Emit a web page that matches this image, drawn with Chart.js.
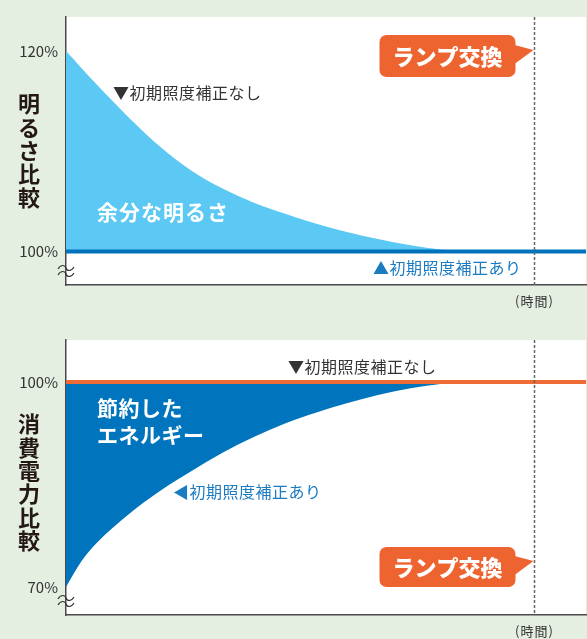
<!DOCTYPE html>
<html lang="ja">
<head>
<meta charset="utf-8">
<title>明るさ比較・消費電力比較</title>
<script src="https://cdn.jsdelivr.net/npm/chart.js@4.4.1/dist/chart.umd.min.js"></script>
<style>
  html, body { margin: 0; padding: 0; background: #e4eee1; }
  #wrap { position: relative; width: 587px; height: 639px; background: #e4eee1; }
  canvas { position: absolute; left: 0; }
</style>
</head>
<body>
<div id="wrap">
  <canvas id="brightChart" width="587" height="320" style="top:0"></canvas>
  <canvas id="powerChart" width="587" height="319" style="top:320px"></canvas>
</div>
<script>
// 経過時間は 0〜100 の相対値
const lampChangeAt = 90;

// 明るさ (%)
const brightTime = [0, 6, 12, 18, 24, 30, 36, 42, 48, 54, 60, 66, 72, 77, 100];
const brightNoComp = [120, 116.6, 113.4, 110.5, 108.1, 106.3, 104.9, 103.8, 102.8, 101.95, 101.25, 100.65, 100.2, 100, 100];
const brightCompTime = [0, 100];
const brightComp = [100, 100];
const brightTicks = [100, 120];

// 消費電力 (%)
const powerTime = [0, 3, 6, 12, 18, 24, 30, 36, 42, 48, 54, 60, 66, 72, 77, 100];
const powerComp = [70, 73.8, 76.5, 80.6, 84.0, 86.9, 89.6, 91.9, 93.9, 95.5, 96.9, 98.1, 99.05, 99.7, 100, 100];
const powerNoCompTime = [0, 100];
const powerNoComp = [100, 100];
const powerTicks = [70, 100];

const FONT = '"Noto Sans CJK JP", "Noto Sans", sans-serif';
const ORANGE = '#ee6430';

function pts(xs, ys) {
    return xs.map((x, i) => ({ x: x, y: ys[i] }));
}

function drawText(ctx, t) {
    ctx.save();
    ctx.font = t.font;
    ctx.fillStyle = t.color;
    ctx.textAlign = t.align || 'left';
    ctx.textBaseline = 'middle';
    if ('letterSpacing' in ctx) ctx.letterSpacing = (t.spacing || 0) + 'px';
    ctx.fillText(t.text, t.x, t.y);
    ctx.restore();
}

function callout(ctx, lx, cy, h) {
    const right = lx - 19, left = lx - 155, top = cy - h / 2, r = 7;
    ctx.save();
    ctx.fillStyle = ORANGE;
    ctx.beginPath();
    ctx.roundRect(left, top, right - left, h, r);
    ctx.fill();
    ctx.beginPath();
    ctx.moveTo(right - 1, cy - 11);
    ctx.lineTo(lx - 1, cy - 6);
    ctx.lineTo(right - 1, cy + 8);
    ctx.closePath();
    ctx.fill();
    ctx.restore();
    drawText(ctx, { text: 'ランプ交換', x: (left + right) / 2, y: cy + 1, color: '#fff',
        font: '900 22px ' + FONT, align: 'center' });
}

// 波線の省略記号 (軸をまたいで2本)
function breakMark(ctx, cx, cy) {
    ctx.save();
    ctx.strokeStyle = '#333';
    ctx.lineWidth = 1.1;
    [-3, 3].forEach(dy => {
        const y = cy + dy;
        ctx.beginPath();
        ctx.moveTo(cx - 8, y + 1);
        ctx.bezierCurveTo(cx - 5, y - 4, cx - 1, y - 3, cx, y);
        ctx.bezierCurveTo(cx + 1, y + 3, cx + 5, y + 4, cx + 8, y - 1);
        ctx.stroke();
    });
    ctx.restore();
}

const decor = {
    id: 'decor',
    beforeDraw(chart) {
        const { ctx, chartArea: a } = chart;
        ctx.save();
        ctx.fillStyle = '#fff';
        ctx.fillRect(a.left, a.top, a.right - a.left, a.bottom - a.top);
        ctx.restore();
    },
    afterDraw(chart, args, opts) {
        const { ctx, chartArea: a, scales: { x } } = chart;
        const lx = Math.round(x.getPixelForValue(lampChangeAt)) + 0.5;

        // ランプ交換の時期
        ctx.save();
        ctx.strokeStyle = '#666';
        ctx.lineWidth = 1.5;
        ctx.setLineDash([3, 2]);
        ctx.beginPath();
        ctx.moveTo(lx, a.top);
        ctx.lineTo(lx, a.bottom);
        ctx.stroke();
        ctx.restore();

        callout(ctx, lx, opts.calloutY, opts.calloutH);

        opts.notes.forEach(t => drawText(ctx, t));

        drawText(ctx, { text: '(時間)', x: lx, y: a.bottom + 16, color: '#333',
            font: '13px ' + FONT, align: 'center', spacing: 1 });

        // 縦書きの軸タイトル
        opts.title.split('').forEach((c, i) => {
            drawText(ctx, { text: c, x: 29, y: opts.titleY + i * 23.3, color: '#231815',
                font: 'bold 22px ' + FONT, align: 'center' });
        });

        breakMark(ctx, a.left, a.bottom - 14);
    }
};

function baseOptions(yMin, yMax, ticks, padTop, xHeight, decorOpts) {
    return {
        responsive: false,
        animation: false,
        devicePixelRatio: 1,
        layout: { padding: { top: padTop, right: 1, left: 0, bottom: 0 } },
        elements: { point: { radius: 0 } },
        plugins: {
            legend: { display: false },
            tooltip: { enabled: false },
            decor: decorOpts
        },
        scales: {
            x: {
                type: 'linear',
                min: 0,
                max: 100,
                grid: { display: false },
                border: { display: true, color: '#4a4a4a', width: 1.5 },
                ticks: { display: false },
                afterFit(scale) { scale.height = xHeight; }
            },
            y: {
                min: yMin,
                max: yMax,
                grid: { display: false, drawTicks: false },
                border: { display: true, color: '#4a4a4a', width: 1.5 },
                afterBuildTicks(scale) { scale.ticks = ticks.map(v => ({ value: v })); },
                afterFit(scale) { scale.width = 66; },
                ticks: {
                    padding: 8,
                    color: '#333',
                    font: { family: FONT, size: 15 },
                    callback: v => v + '%'
                }
            }
        }
    };
}

new Chart(document.getElementById('brightChart'), {
    type: 'line',
    data: {
        datasets: [
            {
                label: '初期照度補正あり',
                data: pts(brightCompTime, brightComp),
                borderColor: '#0072bc',
                borderWidth: 4,
                fill: false
            },
            {
                label: '初期照度補正なし',
                data: pts(brightTime, brightNoComp),
                borderWidth: 0,
                borderColor: 'rgba(0,0,0,0)',
                backgroundColor: '#5bc9f4',
                cubicInterpolationMode: 'monotone',
                fill: { value: 100 }
            }
        ]
    },
    options: baseOptions(96.66, 123.39, brightTicks, 9, 35, {
        title: '明るさ比較',
        titleY: 104,
        calloutY: 56,
        calloutH: 42,
        notes: [
            { text: '▼初期照度補正なし', x: 113, y: 93, color: '#333', font: '16px ' + FONT, spacing: 0.5 },
            { text: '余分な明るさ', x: 97, y: 212, color: '#fff', font: 'bold 21px ' + FONT, spacing: 1 },
            { text: '▲初期照度補正あり', x: 373, y: 268, color: '#1b7bc1', font: '16px ' + FONT, spacing: 0.5 }
        ]
    }),
    plugins: [decor]
});

new Chart(document.getElementById('powerChart'), {
    type: 'line',
    data: {
        datasets: [
            {
                label: '初期照度補正なし',
                data: pts(powerNoCompTime, powerNoComp),
                borderColor: '#ef6b35',
                borderWidth: 4,
                fill: false
            },
            {
                label: '初期照度補正あり',
                data: pts(powerTime, powerComp),
                borderWidth: 0,
                borderColor: 'rgba(0,0,0,0)',
                backgroundColor: '#0075bd',
                cubicInterpolationMode: 'monotone',
                fill: { value: 100 }
            }
        ]
    },
    options: baseOptions(65.9, 106.15, powerTicks, 20, 24, {
        title: '消費電力比較',
        titleY: 104,
        calloutY: 247,
        calloutH: 40,
        notes: [
            { text: '▼初期照度補正なし', x: 288, y: 47, color: '#333', font: '16px ' + FONT, spacing: 0.5 },
            { text: '節約した', x: 97, y: 88, color: '#fff', font: 'bold 21px ' + FONT, spacing: 0.5 },
            { text: 'エネルギー', x: 97, y: 115, color: '#fff', font: 'bold 21px ' + FONT, spacing: 0.5 },
            { text: '◀初期照度補正あり', x: 173, y: 172, color: '#1b7bc1', font: '16px ' + FONT, spacing: 0.5 }
        ]
    }),
    plugins: [decor]
});
</script>
</body>
</html>
